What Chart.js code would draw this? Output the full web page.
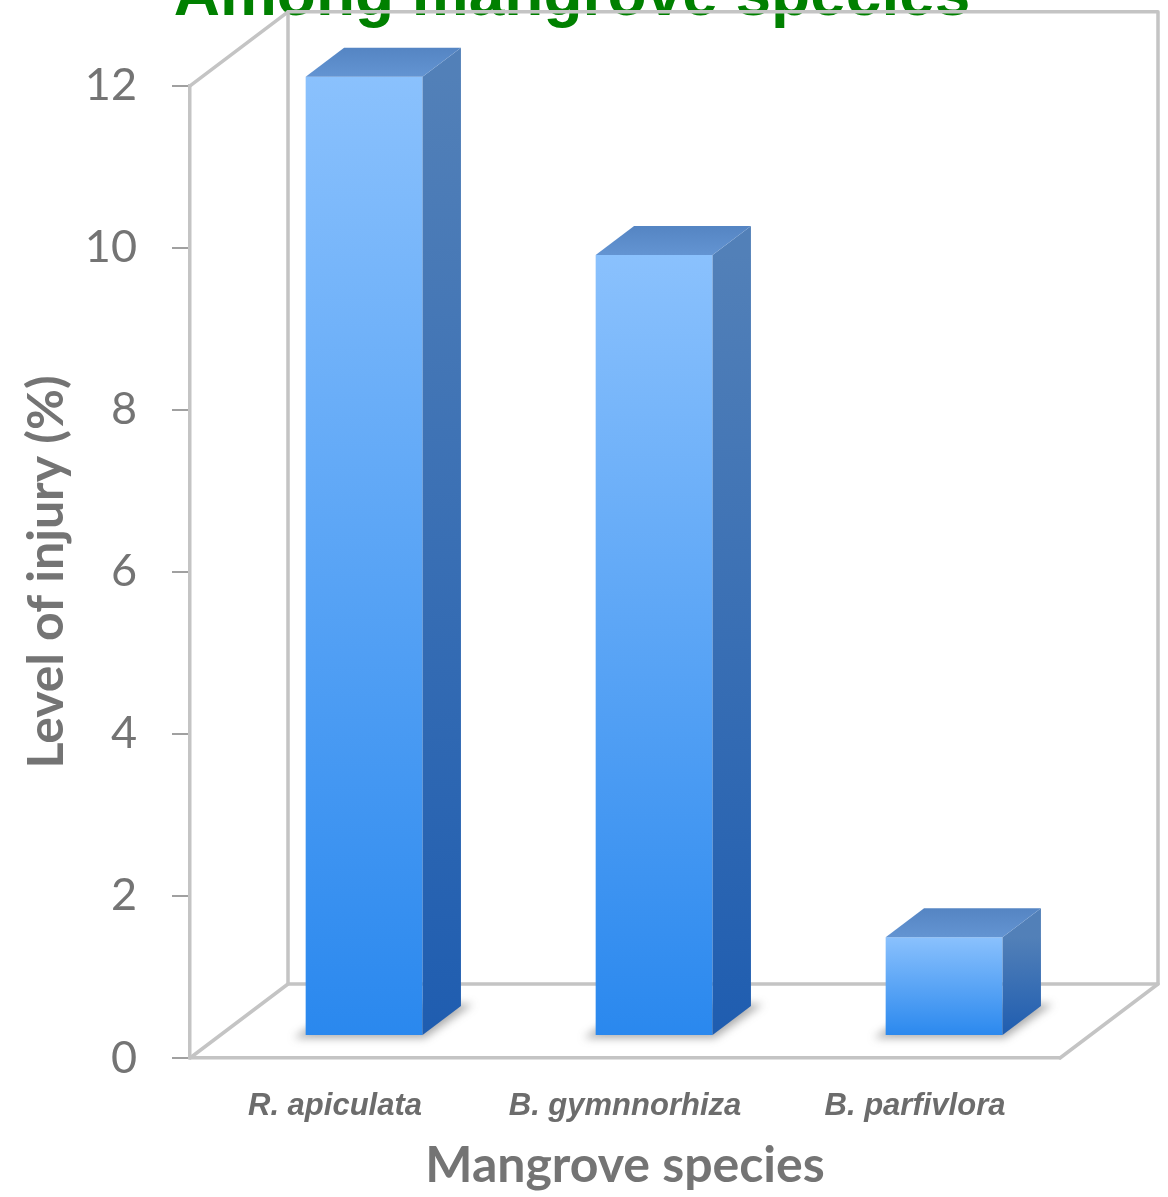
<!DOCTYPE html>
<html>
<head>
<meta charset="utf-8">
<script src="https://cdn.jsdelivr.net/npm/chart.js@4.4.1/dist/chart.umd.min.js"></script>
<style>
  html, body { margin: 0; padding: 0; background: #fff; overflow: hidden; width: 1168px; height: 1197px; }
  #wrap { position: absolute; left: 0; top: -43px; width: 1168px; height: 1240px; }
</style>
</head>
<body>
<div id="wrap"><canvas id="chart" width="1168" height="1240"></canvas></div>
<script>
// ---- data ----
const chartTitle = 'Among mangrove species';
const species = ['R. apiculata', 'B. gymnnorhiza', 'B. parfivlora'];
const injuryLevel = [11.84, 9.64, 1.22];
const yTickValues = [0, 2, 4, 6, 8, 10, 12];
const xAxisTitle = 'Mangrove species';
const yAxisTitle = 'Level of injury (%)';

// ---- 3D look ----
const DEPTH = { dx: 98, dy: -74 };   // full floor depth vector
const BAR_FRONT = 0.297;            // bar front plane as fraction of depth
const BAR_BACK = 0.689;             // bar back plane as fraction of depth
const WALL_COLOR = '#c4c4c4';

function poly(ctx, pts) {
  ctx.beginPath();
  ctx.moveTo(pts[0][0], pts[0][1]);
  for (let i = 1; i < pts.length; i++) ctx.lineTo(pts[i][0], pts[i][1]);
  ctx.closePath();
}

const boxes3d = {
  id: 'boxes3d',
  beforeDatasetsDraw(chart) {
    const { ctx } = chart;
    const xs = chart.scales.x, ys = chart.scales.y;
    const L = xs.left, R = xs.right;
    const B = ys.getPixelForValue(ys.min), T = ys.getPixelForValue(ys.max);
    const { dx, dy } = DEPTH;

    ctx.save();
    ctx.strokeStyle = WALL_COLOR;
    ctx.lineWidth = 3.5;
    ctx.lineJoin = 'round';
    ctx.lineCap = 'round';
    // back wall
    ctx.strokeRect(L + dx, T + dy, R - L, B - T);
    // side wall and floor edges
    ctx.beginPath();
    ctx.moveTo(L, T); ctx.lineTo(L + dx, T + dy);
    ctx.moveTo(L, B); ctx.lineTo(L + dx, B + dy);
    ctx.moveTo(R, B); ctx.lineTo(R + dx, B + dy);
    ctx.stroke();

    // soft shadows on the floor under each box
    const ox = dx * BAR_FRONT, oy = dy * BAR_FRONT;
    const bx = dx * (BAR_BACK - BAR_FRONT), by = dy * (BAR_BACK - BAR_FRONT);
    ctx.filter = 'blur(4px)';
    ctx.fillStyle = 'rgba(70,70,70,0.45)';
    chart.getDatasetMeta(0).data.forEach(el => {
      const { x, base, width } = el.getProps(['x', 'base', 'width'], true);
      const l = x - width / 2 + ox, r = x + width / 2 + ox, b = base + oy;
      poly(ctx, [[l - 12, b + 3], [r + 2, b + 3], [r + bx + 12, b + by - 2], [l + bx, b + by - 2]]);
      ctx.fill();
    });
    ctx.restore();

    // bar front faces are drawn on the bars' own depth plane
    ctx.save();
    ctx.translate(ox, oy);
  },
  afterDatasetsDraw(chart) {
    const { ctx } = chart;
    ctx.restore();
    const { dx, dy } = DEPTH;
    const ox = dx * BAR_FRONT, oy = dy * BAR_FRONT;
    const bx = dx * (BAR_BACK - BAR_FRONT), by = dy * (BAR_BACK - BAR_FRONT);
    ctx.save();
    chart.getDatasetMeta(0).data.forEach(el => {
      const { x, y, base, width } = el.getProps(['x', 'y', 'base', 'width'], true);
      const l = x - width / 2 + ox, r = x + width / 2 + ox, t = y + oy, b = base + oy;
      // right side face
      const gs = ctx.createLinearGradient(0, t, 0, b);
      gs.addColorStop(0, '#5280b8');
      gs.addColorStop(1, '#1f5db0');
      ctx.fillStyle = gs;
      poly(ctx, [[r, t], [r + bx, t + by], [r + bx, b + by], [r, b]]);
      ctx.fill();
      // top face
      const gt = ctx.createLinearGradient(0, t + by, 0, t);
      gt.addColorStop(0, '#5585c3');
      gt.addColorStop(1, '#6394d2');
      ctx.fillStyle = gt;
      poly(ctx, [[l, t], [r, t], [r + bx, t + by], [l + bx, t + by]]);
      ctx.fill();
    });
    ctx.restore();
  }
};

function frontGradient(context) {
  const chart = context.chart;
  const ys = chart.scales && chart.scales.y;
  if (!chart.chartArea || !ys) return '#4a9ef5';
  const top = ys.getPixelForValue(context.raw);
  const bottom = ys.getPixelForValue(0);
  const g = chart.ctx.createLinearGradient(0, top, 0, bottom);
  g.addColorStop(0, '#8ac1fd');
  g.addColorStop(1, '#2a88ee');
  return g;
}

const grayText = '#747474';

function build() {
  new Chart(document.getElementById('chart'), {
    type: 'bar',
    data: {
      labels: species,
      datasets: [{
        data: injuryLevel,
        backgroundColor: frontGradient,
        borderWidth: 0,
        barPercentage: 0.403,
        categoryPercentage: 1,
        clip: false
      }]
    },
    options: {
      responsive: false,
      animation: false,
      layout: { padding: { left: 84, right: 108, top: 0, bottom: 0 } },
      plugins: {
        legend: { display: false },
        tooltip: { enabled: false },
        title: {
          display: true,
          text: chartTitle,
          color: '#008000',
          font: { family: '"Liberation Sans", Arial, sans-serif', size: 64, weight: 'bold', lineHeight: 1.2 },
          padding: { top: 2, bottom: 50 }
        }
      },
      scales: {
        x: {
          grid: { display: true, drawOnChartArea: false, drawTicks: false, color: 'rgba(0,0,0,0)' },
          border: { display: true, color: WALL_COLOR, width: 3.5 },
          ticks: {
            padding: 30,
            color: '#6c6c6c',
            font: { family: '"Liberation Sans", Arial, sans-serif', size: 31, style: 'italic', weight: 'bold' }
          },
          title: {
            display: true,
            text: xAxisTitle,
            color: grayText,
            font: { family: 'Lato', size: 50, weight: 'bold' },
            padding: { top: 0, bottom: 1 }
          },
          afterFit(scale) { scale.height = 139; }
        },
        y: {
          min: 0,
          max: 12,
          afterBuildTicks(scale) { scale.ticks = yTickValues.map(v => ({ value: v })); },
          ticks: {
            padding: 35,
            color: grayText,
            font: { family: 'Lato', size: 45 }
          },
          grid: { drawOnChartArea: false, drawTicks: true, tickLength: 18, color: '#a0a0a0', lineWidth: 2 },
          border: { display: true, color: WALL_COLOR, width: 3.5 },
          title: {
            display: true,
            text: yAxisTitle,
            color: grayText,
            font: { family: 'Lato', size: 50, weight: 'bold' },
            padding: { top: -67, bottom: 0 }
          },
          afterFit(scale) { scale.width = 106; }
        }
      }
    },
    plugins: [boxes3d]
  });
}

Promise.all([
  document.fonts.load('45px Lato'),
  document.fonts.load('bold 50px Lato'),
  document.fonts.load('bold 64px "Liberation Sans"'),
  document.fonts.load('italic bold 31px "Liberation Sans"')
]).then(build, build);
</script>
</body>
</html>
